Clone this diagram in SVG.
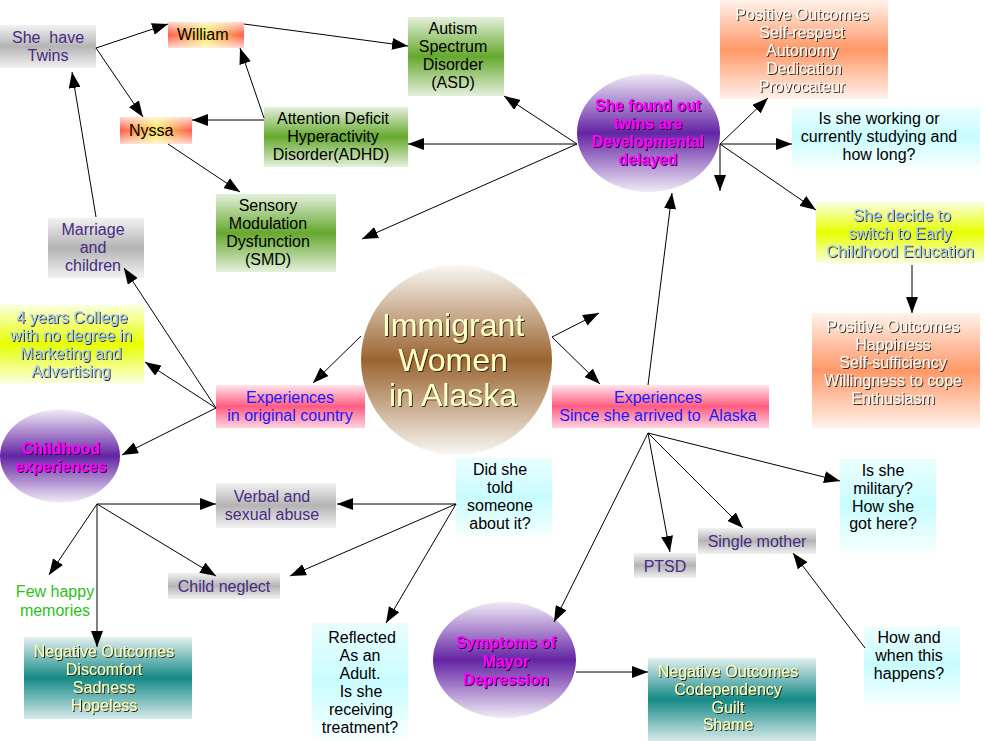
<svg xmlns="http://www.w3.org/2000/svg" width="985" height="741" viewBox="0 0 985 741">
<defs>
<linearGradient id="gGray" x1="0" y1="0" x2="0" y2="1"><stop offset="0" stop-color="#f2f2f2"/><stop offset="0.5" stop-color="#b4b4b4"/><stop offset="1" stop-color="#f2f2f2"/></linearGradient>
<linearGradient id="gGreen" x1="0" y1="0" x2="0" y2="1"><stop offset="0" stop-color="#e4f0dc"/><stop offset="0.5" stop-color="#66a82e"/><stop offset="1" stop-color="#e4f0dc"/></linearGradient>
<linearGradient id="gRed" x1="0" y1="0" x2="1" y2="0"><stop offset="0" stop-color="#ff5a4a"/><stop offset="0.5" stop-color="#f6e64a"/><stop offset="1" stop-color="#ff5a4a"/></linearGradient>
<linearGradient id="gFade" x1="0" y1="0" x2="0" y2="1"><stop offset="0" stop-color="#fff" stop-opacity="0.75"/><stop offset="0.5" stop-color="#fff" stop-opacity="0"/><stop offset="1" stop-color="#fff" stop-opacity="0.75"/></linearGradient>
<linearGradient id="gPurple" x1="0" y1="0" x2="0" y2="1"><stop offset="0" stop-color="#f0eaf6"/><stop offset="0.5" stop-color="#6424a4"/><stop offset="1" stop-color="#f0eaf6"/></linearGradient>
<linearGradient id="gSalmon" x1="0" y1="0" x2="0" y2="1"><stop offset="0" stop-color="#fff2ea"/><stop offset="0.5" stop-color="#ff9868"/><stop offset="1" stop-color="#fff2ea"/></linearGradient>
<linearGradient id="gCyan" x1="0" y1="0" x2="0" y2="1"><stop offset="0" stop-color="#eafeff"/><stop offset="0.5" stop-color="#c8fcff"/><stop offset="1" stop-color="#f6ffff"/></linearGradient>
<linearGradient id="gYellow" x1="0" y1="0" x2="0" y2="1"><stop offset="0" stop-color="#fbffdc"/><stop offset="0.5" stop-color="#e6ff00"/><stop offset="1" stop-color="#fbffdc"/></linearGradient>
<linearGradient id="gPink" x1="0" y1="0" x2="0" y2="1"><stop offset="0" stop-color="#ffe4ec"/><stop offset="0.5" stop-color="#ff5c80"/><stop offset="1" stop-color="#ffd4e2"/></linearGradient>
<linearGradient id="gTeal" x1="0" y1="0" x2="0" y2="1"><stop offset="0" stop-color="#e2f0f0"/><stop offset="0.5" stop-color="#168a86"/><stop offset="1" stop-color="#d6eaea"/></linearGradient>
<linearGradient id="gBrown" x1="0" y1="0" x2="0" y2="1"><stop offset="0" stop-color="#faf7f3"/><stop offset="0.5" stop-color="#9a6430"/><stop offset="1" stop-color="#faf7f3"/></linearGradient>
<filter id="sh" x="-10%" y="-10%" width="120%" height="130%"><feDropShadow dx="1" dy="1" stdDeviation="0.2" flood-color="#222" flood-opacity="0.95"/></filter>
<filter id="shM" x="-10%" y="-10%" width="120%" height="130%"><feDropShadow dx="1" dy="1" stdDeviation="0" flood-color="#2a0038" flood-opacity="1"/></filter>
<marker id="ah" markerUnits="userSpaceOnUse" markerWidth="17" markerHeight="12" refX="16" refY="6" orient="auto"><path d="M0,0 L16,6 L0,12 z" fill="#000"/></marker>
</defs>
<style>
text{font-family:"Liberation Sans",Arial,sans-serif;font-size:16px;text-anchor:middle}
.gt{fill:#4a2a84}
.bk{fill:#000}
.bl{fill:#1a1aff}
.mg{fill:#ff00ff;font-weight:bold;font-size:15.8px;filter:url(#shM)}
.po{fill:#fffaf2;filter:url(#sh)}
.no{fill:#ffffb4;filter:url(#sh)}
.yl{fill:#a8ccf4;filter:url(#sh)}
.ce{fill:#ffffc4;font-size:32px;filter:url(#sh)}
.gr{fill:#2cbf1a}
.pre{white-space:pre}
#connectors line{stroke:#000;stroke-width:1;fill:none;marker-end:url(#ah)}
</style>

<g id="twins"><rect x="0" y="25" width="96" height="43" fill="url(#gGray)"/><text class="gt pre"><tspan x="48" y="43">She  have</tspan><tspan x="48" y="61">Twins</tspan></text></g>
<g id="william"><rect x="168" y="22" width="76" height="26" fill="url(#gRed)"/><rect x="168" y="22" width="76" height="26" fill="url(#gFade)"/><text class="bk" x="177" y="40" style="text-anchor:start">William</text></g>
<g id="nyssa"><rect x="120" y="117" width="72" height="27" fill="url(#gRed)"/><rect x="120" y="117" width="72" height="27" fill="url(#gFade)"/><text class="bk" x="129" y="136" style="text-anchor:start">Nyssa</text></g>
<g id="asd"><rect x="408" y="17" width="96" height="79" fill="url(#gGreen)"/><text class="bk"><tspan x="453" y="34">Autism</tspan><tspan x="453" y="52">Spectrum</tspan><tspan x="453" y="70">Disorder</tspan><tspan x="453" y="88">(ASD)</tspan></text></g>
<g id="adhd"><rect x="264" y="107" width="144" height="60" fill="url(#gGreen)"/><text class="bk"><tspan x="333" y="124">Attention Deficit</tspan><tspan x="333" y="142">Hyperactivity</tspan><tspan x="331" y="160">Disorder(ADHD)</tspan></text></g>
<g id="smd"><rect x="216" y="194" width="120" height="78" fill="url(#gGreen)"/><text class="bk"><tspan x="268" y="211">Sensory</tspan><tspan x="268" y="229">Modulation</tspan><tspan x="268" y="247">Dysfunction</tspan><tspan x="268" y="265">(SMD)</tspan></text></g>
<g id="developmental"><ellipse cx="648.5" cy="133" rx="71.5" ry="59" fill="url(#gPurple)"/><text class="mg"><tspan x="648" y="111">She found out</tspan><tspan x="648" y="129">twins are</tspan><tspan x="648" y="147">Developmental</tspan><tspan x="648" y="165">delayed</tspan></text></g>
<g id="positive-top"><rect x="720" y="0" width="168" height="99" fill="url(#gSalmon)"/><text class="po"><tspan x="802" y="20">Positive Outcomes</tspan><tspan x="802" y="38">Self-respect</tspan><tspan x="802" y="56">Autonomy</tspan><tspan x="804" y="74">Dedication</tspan><tspan x="802" y="92">Provocateur</tspan></text></g>
<g id="working"><rect x="792" y="107" width="188" height="60" fill="url(#gCyan)"/><text class="bk"><tspan x="879" y="124">Is she working or</tspan><tspan x="879" y="142">currently studying and</tspan><tspan x="879" y="160">how long?</tspan></text></g>
<g id="switch"><rect x="816" y="202" width="168" height="61" fill="url(#gYellow)"/><text class="yl"><tspan x="902" y="221">She decide to</tspan><tspan x="900" y="239">switch to Early</tspan><tspan x="900" y="257">Childhood Education</tspan></text></g>
<g id="positive-right"><rect x="812" y="313" width="168" height="115" fill="url(#gSalmon)"/><text class="po"><tspan x="893" y="332">Positive Outcomes</tspan><tspan x="893" y="350">Happiness</tspan><tspan x="893" y="368">Self-sufficiency</tspan><tspan x="893" y="386">Willingness to cope</tspan><tspan x="893" y="404">Enthusiasm</tspan></text></g>
<g id="marriage"><rect x="48" y="218" width="96" height="60" fill="url(#gGray)"/><text class="gt"><tspan x="93" y="235">Marriage</tspan><tspan x="93" y="253">and</tspan><tspan x="93" y="271">children</tspan></text></g>
<g id="college"><rect x="0" y="305" width="144" height="78" fill="url(#gYellow)"/><text class="yl"><tspan x="72" y="323">4 years College</tspan><tspan x="71" y="341">with no degree in</tspan><tspan x="71" y="359">Marketing and</tspan><tspan x="71" y="377">Advertising</tspan></text></g>
<g id="center"><ellipse cx="456.5" cy="360" rx="95.5" ry="95" fill="url(#gBrown)"/><text class="ce"><tspan x="453" y="336">Immigrant</tspan><tspan x="453" y="371">Women</tspan><tspan x="453" y="406">in Alaska</tspan></text></g>
<g id="exp-original"><rect x="216" y="385" width="149" height="43" fill="url(#gPink)"/><text class="bl"><tspan x="290" y="403">Experiences</tspan><tspan x="290" y="421">in original country</tspan></text></g>
<g id="exp-since"><rect x="552" y="385" width="217" height="43" fill="url(#gPink)"/><text class="bl pre"><tspan x="658" y="403">Experiences</tspan><tspan x="658" y="421">Since she arrived to  Alaska</tspan></text></g>
<g id="childhood"><ellipse cx="60" cy="456" rx="60" ry="46.5" fill="url(#gPurple)"/><text class="mg"><tspan x="61" y="454">Childhood</tspan><tspan x="61" y="472">experiences</tspan></text></g>
<g id="verbal"><rect x="216" y="483" width="120" height="45" fill="url(#gGray)"/><text class="gt"><tspan x="272" y="502">Verbal and</tspan><tspan x="272" y="520">sexual abuse</tspan></text></g>
<g id="neglect"><rect x="168" y="573" width="112" height="26" fill="url(#gGray)"/><text class="gt" x="224" y="592">Child neglect</text></g>
<g id="few-happy"><text class="gr"><tspan x="55" y="597">Few happy</tspan><tspan x="55" y="616">memories</tspan></text></g>
<g id="negative-left"><rect x="24" y="637" width="168" height="82" fill="url(#gTeal)"/><text class="no"><tspan x="104" y="657">Negative Outcomes</tspan><tspan x="104" y="675">Discomfort</tspan><tspan x="104" y="693">Sadness</tspan><tspan x="104" y="711">Hopeless</tspan></text></g>
<g id="told"><rect x="456" y="458" width="96" height="79" fill="url(#gCyan)"/><text class="bk"><tspan x="500" y="475">Did she</tspan><tspan x="500" y="493">told</tspan><tspan x="500" y="511">someone</tspan><tspan x="500" y="529">about it?</tspan></text></g>
<g id="reflected"><rect x="312" y="623" width="96" height="116" fill="url(#gCyan)"/><text class="bk"><tspan x="362" y="643">Reflected</tspan><tspan x="360" y="661">As an</tspan><tspan x="360" y="679">Adult.</tspan><tspan x="361" y="697">Is she</tspan><tspan x="361" y="715">receiving</tspan><tspan x="360" y="733">treatment?</tspan></text></g>
<g id="depression"><ellipse cx="504.5" cy="660" rx="71.5" ry="58" fill="url(#gPurple)"/><text class="mg"><tspan x="506" y="648">Symptoms of</tspan><tspan x="506" y="667">Mayor</tspan><tspan x="506" y="685">Depression</tspan></text></g>
<g id="ptsd"><rect x="634" y="553" width="62" height="25" fill="url(#gGray)"/><text class="gt" x="665" y="572">PTSD</text></g>
<g id="single-mother"><rect x="698" y="528" width="118" height="26" fill="url(#gGray)"/><text class="gt" x="757" y="547">Single mother</text></g>
<g id="military"><rect x="840" y="459" width="96" height="93" fill="url(#gCyan)"/><text class="bk"><tspan x="883" y="476">Is she</tspan><tspan x="883" y="494">military?</tspan><tspan x="883" y="512">How she</tspan><tspan x="883" y="529">got here?</tspan></text></g>
<g id="negative-right"><rect x="648" y="658" width="168" height="83" fill="url(#gTeal)"/><text class="no"><tspan x="728" y="677">Negative Outcomes</tspan><tspan x="728" y="695">Codependency</tspan><tspan x="728" y="713">Guilt</tspan><tspan x="728" y="730">Shame</tspan></text></g>
<g id="how-when"><rect x="864" y="627" width="96" height="78" fill="url(#gCyan)"/><text class="bk"><tspan x="909" y="643">How and</tspan><tspan x="909" y="661">when this</tspan><tspan x="909" y="679">happens?</tspan></text></g>

<g id="connectors">
<line x1="96" y1="48" x2="168" y2="24"/>
<line x1="96" y1="48" x2="143" y2="117"/>
<line x1="244" y1="24" x2="408" y2="46"/>
<line x1="264" y1="118" x2="240" y2="48"/>
<line x1="264" y1="120" x2="192" y2="120"/>
<line x1="168" y1="144" x2="240" y2="192"/>
<line x1="96" y1="217" x2="72" y2="72"/>
<line x1="577" y1="144" x2="504" y2="96"/>
<line x1="577" y1="144" x2="408" y2="144"/>
<line x1="577" y1="144" x2="362" y2="239"/>
<line x1="720" y1="144" x2="768" y2="98"/>
<line x1="720" y1="144" x2="792" y2="144"/>
<line x1="720" y1="144" x2="720" y2="191"/>
<line x1="720" y1="144" x2="816" y2="210"/>
<line x1="912" y1="265" x2="912" y2="313"/>
<line x1="648" y1="385" x2="672" y2="193"/>
<line x1="552" y1="337" x2="599" y2="313"/>
<line x1="552" y1="337" x2="600" y2="384"/>
<line x1="361" y1="336" x2="313" y2="383"/>
<line x1="216" y1="408" x2="124" y2="268"/>
<line x1="216" y1="408" x2="145" y2="362"/>
<line x1="216" y1="408" x2="122" y2="455"/>
<line x1="97" y1="504" x2="216" y2="504"/>
<line x1="97" y1="504" x2="49" y2="575"/>
<line x1="97" y1="504" x2="97" y2="647"/>
<line x1="97" y1="504" x2="216" y2="576"/>
<line x1="456" y1="504" x2="337" y2="504"/>
<line x1="456" y1="504" x2="290" y2="576"/>
<line x1="456" y1="504" x2="386" y2="623"/>
<line x1="648" y1="433" x2="554" y2="622"/>
<line x1="648" y1="433" x2="670" y2="552"/>
<line x1="648" y1="433" x2="743" y2="528"/>
<line x1="648" y1="433" x2="840" y2="481"/>
<line x1="865" y1="648" x2="793" y2="553"/>
<line x1="576" y1="672" x2="648" y2="672"/>
</g>
</svg>
